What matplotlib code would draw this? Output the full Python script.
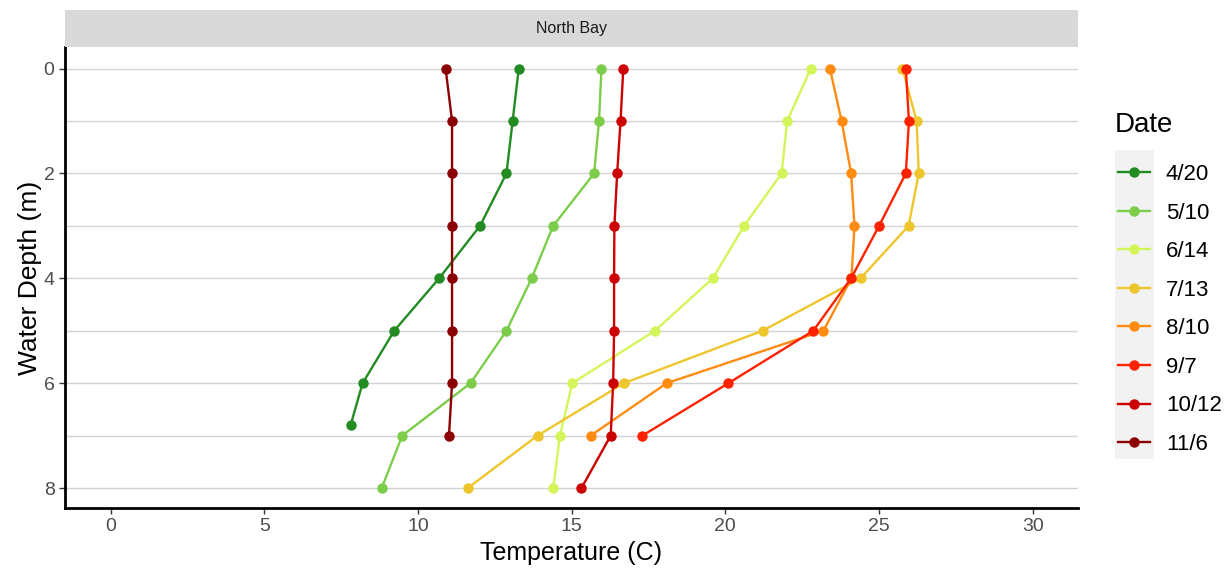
import matplotlib
matplotlib.use("Agg")
import matplotlib.pyplot as plt
from matplotlib.patches import Rectangle

plt.rcParams['font.family'] = ['Liberation Sans', 'DejaVu Sans']

dates = ["4/20", "5/10", "6/14", "7/13", "8/10", "9/7", "10/12", "11/6"]
colors = ["#228B22", "#7CCD4A", "#D4F55A", "#EEC62C", "#FF8C10", "#FF2200", "#CC0000", "#8B0000"]

depth_420 = [0, 1, 2, 3, 4, 5, 6, 6.8]
temp_420 = [13.28, 13.08, 12.88, 12.02, 10.69, 9.23, 8.20, 7.81]

depth_510 = [0, 1, 2, 3, 4, 5, 6, 7, 8]
temp_510 = [15.97, 15.89, 15.73, 14.40, 13.70, 12.88, 11.71, 9.49, 8.82]

depth_614 = [0, 1, 2, 3, 4, 5, 6, 7, 8]
temp_614 = [22.78, 22.01, 21.83, 20.61, 19.59, 17.71, 15.02, 14.62, 14.40]

depth_713 = [0, 1, 2, 3, 4, 5, 6, 7, 8]
temp_713 = [25.76, 26.22, 26.29, 25.96, 24.40, 21.21, 16.70, 13.89, 11.62]

depth_810 = [0, 1, 2, 3, 4, 5, 6, 7]
temp_810 = [23.40, 23.78, 24.09, 24.20, 24.10, 23.19, 18.09, 15.62]

depth_97 = [0, 1, 2, 3, 4, 5, 6, 7]
temp_97 = [25.87, 25.97, 25.87, 25.00, 24.09, 22.86, 20.10, 17.30]

depth_1012 = [0, 1, 2, 3, 4, 5, 6, 7, 8]
temp_1012 = [16.68, 16.59, 16.48, 16.39, 16.38, 16.38, 16.35, 16.27, 15.32]

depth_116 = [0, 1, 2, 3, 4, 5, 6, 7]
temp_116 = [10.90, 11.11, 11.11, 11.11, 11.11, 11.11, 11.11, 11.01]

series_temps = [temp_420, temp_510, temp_614, temp_713, temp_810, temp_97, temp_1012, temp_116]
series_depths = [depth_420, depth_510, depth_614, depth_713, depth_810, depth_97, depth_1012, depth_116]

x_ticks = [0, 5, 10, 15, 20, 25, 30]
y_ticks = [0, 2, 4, 6, 8]

W, H = 1228, 574
fig = plt.figure(figsize=(W / 100, H / 100), dpi=100)
ax = fig.add_axes([65 / W, (H - 508) / H, (1078 - 65) / W, (508 - 47) / H])

# gridlines (major + minor) horizontal only
for d in range(0, 9):
    ax.axhline(d, color="#D3D3D3", lw=1.0, zorder=0)

handles = []
for t, d, c, lab in zip(series_temps, series_depths, colors, dates):
    h, = ax.plot(t, d, color=c, lw=1.7, marker="o", markersize=6.5, label=lab, zorder=3)
    handles.append(h)

ax.set_xlim(-1.48, 31.47)
ax.set_ylim(8.38, -0.41)
ax.set_xticks(x_ticks)
ax.set_yticks(y_ticks)
ax.tick_params(axis="both", colors="#333333", labelcolor="#4D4D4D", labelsize=14, length=4, width=1)
for s in ["top", "right"]:
    ax.spines[s].set_visible(False)
for s in ["left", "bottom"]:
    ax.spines[s].set_linewidth(2)
    ax.spines[s].set_color("black")
ax.set_xlabel("Temperature (C)", fontsize=18, labelpad=4)
ax.set_ylabel("Water Depth (m)", fontsize=19, labelpad=1)

# strip
strip = fig.add_axes([65 / W, (H - 47) / H, (1078 - 65) / W, 37 / H])
strip.set_facecolor("#D9D9D9")
strip.set_xticks([]); strip.set_yticks([])
for s in strip.spines.values():
    s.set_visible(False)
strip.text(0.5, 0.5, "North Bay", ha="center", va="center", fontsize=11.5, color="#1A1A1A",
           transform=strip.transAxes)

# legend key background
fig.patches.append(Rectangle((1115 / W, (H - 459) / H), 39 / W, 309 / H,
                             transform=fig.transFigure, facecolor="#F2F2F2", edgecolor="none", zorder=0))

fig.text(1115 / W, (H - 125) / H, "Date", fontsize=20, ha="left", va="center", color="black")
leg = fig.legend(handles=handles, labels=dates, loc="upper left",
                 bbox_to_anchor=(1118 / W, (H - 164) / H), frameon=False,
                 fontsize=16, handlelength=1.45,
                 labelspacing=0.79, handletextpad=0.7, borderaxespad=0, borderpad=0)

fig.savefig("out.png", dpi=100)
